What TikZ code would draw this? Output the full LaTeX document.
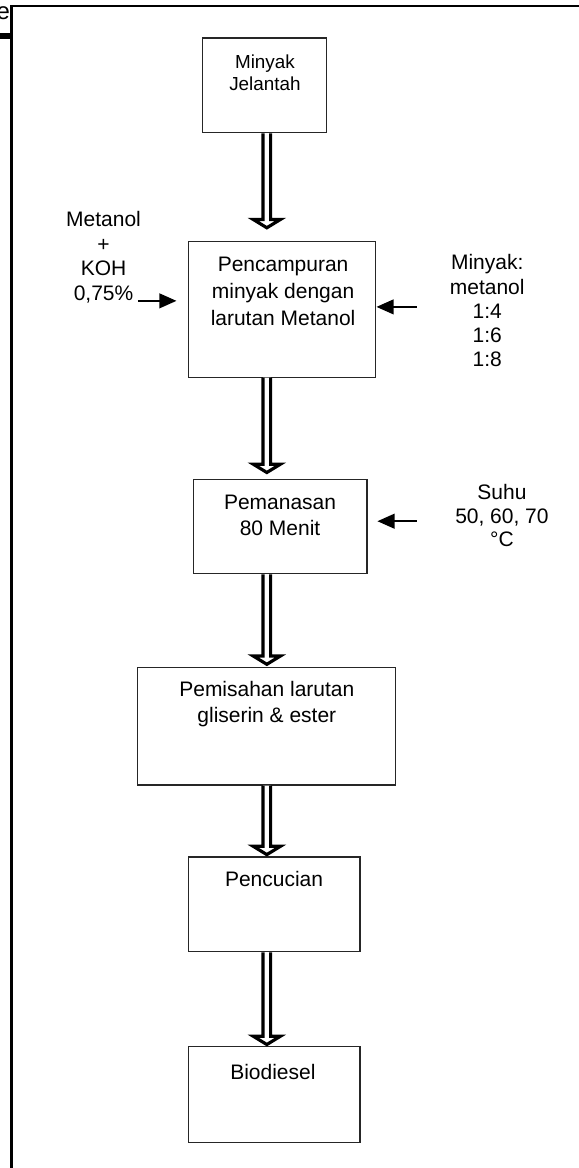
\documentclass[tikz,border=0pt]{standalone}
\usepackage{fontspec}
\setmainfont{Liberation Sans}
\usetikzlibrary{arrows.meta, calc}

\newcommand{\fatarrow}[3]{%
  \draw[fat] ($(#1.south -| ax)+(-0.1,0)$) -- ($(#2.north -| ax)+(-0.1,{#3+0.22})$)
    -- ($(#2.north -| ax)+(-0.36,{#3+0.22})$) -- ($(#2.north -| ax)+(0,#3)$)
    -- ($(#2.north -| ax)+(0.36,{#3+0.22})$) -- ($(#2.north -| ax)+(0.1,{#3+0.22})$)
    -- ($(#1.south -| ax)+(0.1,0)$);}

\begin{document}
\begin{tikzpicture}[
  box/.style={rectangle, draw=black!85, line width=0.8pt, fill=white},
  txt/.style={align=center, inner sep=0pt},
  sidearr/.style={-{Triangle[length=13pt,width=11pt]}, line width=1.8pt},
  fat/.style={draw=black, fill=white, line width=2.4pt, line join=miter}
]
  \useasboundingbox (0,0) rectangle (15.319,-30.903);
  \draw[line width=1.7pt] (0.304,-30.903) -- (0.304,-0.159) -- (15.319,-0.159);
  \draw[line width=4.5pt] (0,-0.95) -- (0.28,-0.95);
  \node[anchor=base east, inner sep=0pt, font=\fontsize{18}{20}\selectfont] (cut) at (0.27,-0.52) {e};

  \node[box, minimum width=3.28cm, minimum height=2.51cm] (oil)  at (7.01,-2.26)  {};
  \node[txt, font=\fontsize{14.2}{17}\selectfont] (oiltxt) at (7.01,-1.92) {Minyak\\Jelantah};
  \node[box, minimum width=4.97cm, minimum height=3.60cm] (mix)  at (7.46,-8.18)  {};
  \node[txt, font=\fontsize{15.8}{20.6}\selectfont] (mixtxt) at (7.49,-7.71) {Pencampuran\\minyak dengan\\larutan Metanol};
  \node[box, minimum width=4.58cm, minimum height=2.51cm] (heat) at (7.42,-13.93) {};
  \node[txt, font=\fontsize{15.8}{19.5}\selectfont] (heattxt) at (7.41,-13.63) {Pemanasan\\80 Menit};
  \node[box, minimum width=6.83cm, minimum height=3.10cm] (sep)  at (7.06,-19.22) {};
  \node[txt, font=\fontsize{15.8}{19.5}\selectfont] (septxt) at (7.06,-18.63) {Pemisahan larutan\\gliserin \& ester};
  \node[box, minimum width=4.55cm, minimum height=2.51cm] (wash) at (7.25,-23.93) {};
  \node[txt, font=\fontsize{15.8}{18}\selectfont] (washtxt) at (7.25,-23.26) {Pencucian};
  \node[box, minimum width=4.55cm, minimum height=2.54cm] (bio)  at (7.25,-28.97) {};
  \node[txt, font=\fontsize{15.8}{18}\selectfont] (biotxt) at (7.22,-28.36) {Biodiesel};

  \node[txt, font=\fontsize{15.8}{18.4}\selectfont] (koh)   at (2.74,-6.81)  {Metanol\\+\\KOH\\0,75\%};
  \node[txt, font=\fontsize{15.8}{18.2}\selectfont] (ratio) at (12.89,-8.22) {Minyak:\\metanol\\1:4\\1:6\\1:8};
  \node[txt, font=\fontsize{15.8}{18}\selectfont]   (temp)  at (13.28,-13.64) {Suhu\\50, 60, 70\\°C};

  \coordinate (kohin)   at (3.65,-7.96);
  \coordinate (ratioin) at (11.03,-8.12);
  \coordinate (tempin)  at (11.03,-13.79);
  \draw[sidearr] (kohin) -- ([xshift=-0.29cm]kohin -| mix.west);
  \draw[sidearr] (ratioin) -- (ratioin -| mix.east);
  \draw[sidearr] (tempin) -- ([xshift=0.26cm]tempin -| heat.east);

  \coordinate (ax) at (7.06,0);
  \fatarrow{oil}{mix}{0.34}
  \fatarrow{mix}{heat}{0.16}
  \fatarrow{heat}{sep}{0.08}
  \fatarrow{sep}{wash}{0.05}
  \fatarrow{wash}{bio}{0.05}
\end{tikzpicture}
\end{document}
